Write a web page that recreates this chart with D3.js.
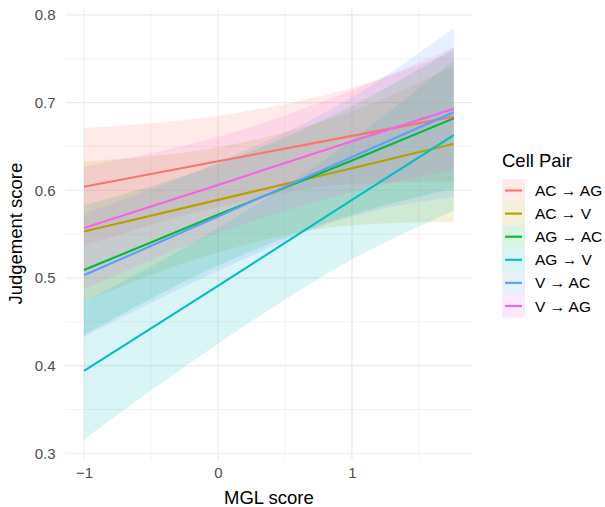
<!DOCTYPE html>
<html>
<head>
<meta charset="utf-8">
<script src="https://cdn.jsdelivr.net/npm/d3@7"></script>
<style>
  body { margin: 0; background: #fff; }
  text { font-family: "Liberation Sans", Arial, sans-serif; }
</style>
</head>
<body>
<script>
// values
const pairs = ['AC \u2192 AG', 'AC \u2192 V', 'AG \u2192 AC', 'AG \u2192 V', 'V \u2192 AC', 'V \u2192 AG']
const colors = ['#F8766D', '#B79F00', '#00BA38', '#00BFC4', '#619CFF', '#F564E3']

const mgl = [-1, 0, 1, 1.76]

const fitValues = [
  [0.604, 0.633, 0.662, 0.684],
  [0.553, 0.589, 0.625, 0.653],
  [0.509, 0.572, 0.634, 0.682],
  [0.394, 0.491, 0.589, 0.663],
  [0.503, 0.570, 0.638, 0.689],
  [0.557, 0.606, 0.656, 0.693]
]
const lowerValues = [
  [0.537, 0.581, 0.607, 0.610],
  [0.473, 0.529, 0.560, 0.564],
  [0.435, 0.514, 0.572, 0.602],
  [0.316, 0.425, 0.521, 0.577],
  [0.433, 0.508, 0.570, 0.593],
  [0.487, 0.551, 0.598, 0.623]
]
const upperValues = [
  [0.671, 0.685, 0.717, 0.758],
  [0.633, 0.649, 0.690, 0.742],
  [0.583, 0.630, 0.696, 0.762],
  [0.472, 0.557, 0.657, 0.749],
  [0.573, 0.632, 0.706, 0.785],
  [0.627, 0.661, 0.714, 0.763]
]

const xTicks = [-1, 0, 1]
const xMinor = [-0.5, 0.5, 1.5]
const yTicks = [0.3, 0.4, 0.5, 0.6, 0.7, 0.8]
const yMinor = [0.35, 0.45, 0.55, 0.65, 0.75]

const width = 605
const height = 507
const panel = { left: 65.5, right: 472.3, top: 7.5, bottom: 459.8 }
const ribbonAlpha = 0.15

const svg = d3.select('body').append('svg')
  .attr('width', width)
  .attr('height', height)

// ggplot style 5% expansion of the data range
const expand = (lo, hi) => [lo - (hi - lo) * 0.05, hi + (hi - lo) * 0.05]

const x = d3.scaleLinear()
  .domain(expand(d3.min(mgl), d3.max(mgl)))
  .range([panel.left, panel.right])

const y = d3.scaleLinear()
  .domain(expand(d3.min(lowerValues.flat()), d3.max(upperValues.flat())))
  .range([panel.bottom, panel.top])

const series = pairs.map((name, i) => ({
  name: name,
  color: colors[i],
  points: mgl.map((m, j) => ({ x: m, fit: fitValues[i][j], lo: lowerValues[i][j], hi: upperValues[i][j] }))
}))

// grid
const grid = svg.append('g')

grid.selectAll('.ymin').data(yMinor).enter().append('line')
  .attr('x1', panel.left).attr('x2', panel.right)
  .attr('y1', d => y(d)).attr('y2', d => y(d))
  .style('stroke', '#EBEBEB').style('stroke-width', 0.6)

grid.selectAll('.xmin').data(xMinor).enter().append('line')
  .attr('y1', panel.top).attr('y2', panel.bottom)
  .attr('x1', d => x(d)).attr('x2', d => x(d))
  .style('stroke', '#EBEBEB').style('stroke-width', 0.6)

grid.selectAll('.ymaj').data(yTicks).enter().append('line')
  .attr('x1', panel.left).attr('x2', panel.right)
  .attr('y1', d => y(d)).attr('y2', d => y(d))
  .style('stroke', '#EBEBEB').style('stroke-width', 1.2)

grid.selectAll('.xmaj').data(xTicks).enter().append('line')
  .attr('y1', panel.top).attr('y2', panel.bottom)
  .attr('x1', d => x(d)).attr('x2', d => x(d))
  .style('stroke', '#EBEBEB').style('stroke-width', 1.2)

// ribbons, then lines
const area = d3.area()
  .x(d => x(d.x))
  .y0(d => y(d.lo))
  .y1(d => y(d.hi))
  .curve(d3.curveMonotoneX)

const line = d3.line()
  .x(d => x(d.x))
  .y(d => y(d.fit))

svg.append('g').selectAll('path')
  .data(series).enter().append('path')
  .attr('d', d => area(d.points))
  .style('fill', d => d.color)
  .style('fill-opacity', ribbonAlpha)

svg.append('g').selectAll('path')
  .data(series).enter().append('path')
  .attr('d', d => line(d.points))
  .style('fill', 'none')
  .style('stroke', d => d.color)
  .style('stroke-width', 2.1)

// axes
const xAxis = d3.axisBottom(x).tickValues(xTicks).tickSize(0).tickPadding(0)
  .tickFormat(d => d < 0 ? '\u2212' + Math.abs(d) : d)
const yAxis = d3.axisLeft(y).tickValues(yTicks).tickSize(0).tickPadding(0)
  .tickFormat(d3.format('.1f'))

const gx = svg.append('g').attr('transform', 'translate(0,' + (panel.bottom + 7) + ')').call(xAxis)
const gy = svg.append('g').attr('transform', 'translate(' + (panel.left - 10) + ',0)').call(yAxis)

gx.select('.domain').remove()
gy.select('.domain').remove()
gx.selectAll('text').style('font-size', '15px').style('fill', '#4D4D4D').attr('dy', '0.75em')
gy.selectAll('text').style('font-size', '15px').style('fill', '#4D4D4D')

svg.append('text')
  .attr('x', (panel.left + panel.right) / 2)
  .attr('y', 504)
  .attr('text-anchor', 'middle')
  .style('font-size', '18.5px')
  .text('MGL score')

svg.append('text')
  .attr('transform', 'translate(22,' + (panel.top + panel.bottom) / 2 + ') rotate(-90)')
  .attr('text-anchor', 'middle')
  .style('font-size', '18.5px')
  .text('Judgement score')

// legend
const legend = svg.append('g').attr('transform', 'translate(502,179)')

legend.append('text')
  .attr('x', 0)
  .attr('y', -12.5)
  .style('font-size', '18.5px')
  .text('Cell Pair')

const keys = legend.selectAll('.key')
  .data(series).enter().append('g')
  .attr('transform', (d, i) => 'translate(0,' + i * 23.1 + ')')

keys.append('rect')
  .attr('width', 23).attr('height', 23.1)
  .style('fill', d => d.color)
  .style('fill-opacity', ribbonAlpha)

keys.append('line')
  .attr('x1', 3).attr('x2', 20)
  .attr('y1', 11.5).attr('y2', 11.5)
  .style('stroke', d => d.color)
  .style('stroke-width', 2.1)

keys.append('text')
  .attr('x', 33)
  .attr('y', 17)
  .style('font-size', '15.5px')
  .text(d => d.name)
</script>
</body>
</html>
